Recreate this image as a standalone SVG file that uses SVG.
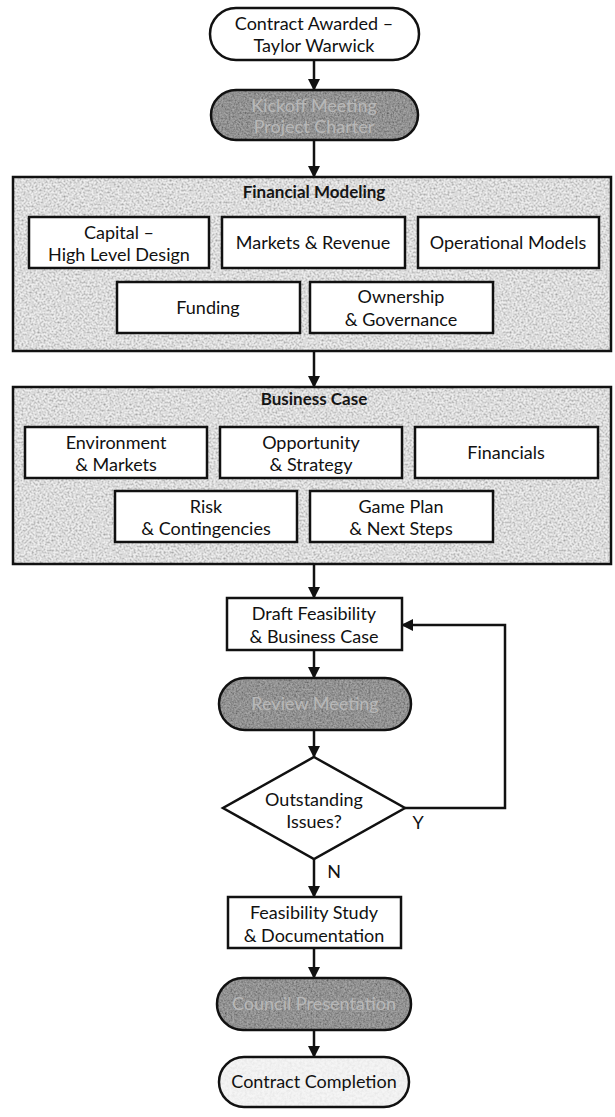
<svg xmlns="http://www.w3.org/2000/svg" width="615" height="1117" viewBox="0 0 615 1117">
  <defs>
    <style>
      .lbl { font-family: Lato, "Open Sans", "Liberation Sans", sans-serif; font-size: 18px; fill: #111; text-anchor: middle; }
      .ttl { font-family: Lato, "Open Sans", "Liberation Sans", sans-serif; font-size: 17px; font-weight: bold; fill: #151515; text-anchor: middle; }
      .dim { font-family: Lato, "Open Sans", "Liberation Sans", sans-serif; font-size: 18px; fill: #b8b8b8; text-anchor: middle; }
      .box { fill: #ffffff; stroke: #111; stroke-width: 2.5; }
      .frame { fill: #c6c6c6; }
      .frame-edge { fill: none; stroke: #111; stroke-width: 2.5; }
      .dark { fill: #686868; }
      .edge { fill: none; stroke: #111; stroke-width: 2.5; }
      .wire { fill: none; stroke: #111; stroke-width: 2.5; marker-end: url(#head); }
    </style>
    <marker id="head" markerUnits="userSpaceOnUse" markerWidth="12" markerHeight="12" refX="11" refY="6" orient="auto">
      <path d="M0,0 L12,6 L0,12 z" fill="#111"/>
    </marker>
    <!-- mottled grey grain used on the shaded shapes -->
    <filter id="grain" x="0" y="0" width="100%" height="100%">
      <feTurbulence type="fractalNoise" baseFrequency="0.5" numOctaves="3" seed="7" result="n"/>
      <feColorMatrix in="n" type="matrix" values="1.4 0 0 0 0.08  1.4 0 0 0 0.08  1.4 0 0 0 0.08  0 0 0 0 0.7" result="g"/>
      <feComposite in="g" in2="SourceGraphic" operator="in"/>
    </filter>
    <filter id="grainDark" x="0" y="0" width="100%" height="100%">
      <feTurbulence type="fractalNoise" baseFrequency="0.55" numOctaves="3" seed="3" result="n"/>
      <feColorMatrix in="n" type="matrix" values="0.9 0 0 0 0.0  0.9 0 0 0 0.0  0.9 0 0 0 0.0  0 0 0 0 0.55" result="g"/>
      <feComposite in="g" in2="SourceGraphic" operator="in"/>
    </filter>
    <filter id="grainLight" x="0" y="0" width="100%" height="100%">
      <feTurbulence type="fractalNoise" baseFrequency="0.4" numOctaves="2" seed="11" result="n"/>
      <feColorMatrix in="n" type="matrix" values="0.5 0 0 0 0.66  0.5 0 0 0 0.66  0.5 0 0 0 0.66  0 0 0 0 0.4" result="g"/>
      <feComposite in="g" in2="SourceGraphic" operator="in"/>
    </filter>
  </defs>

  <rect width="615" height="1117" fill="#ffffff"/>

  <!-- connectors -->
  <g id="connectors">
    <line class="wire" x1="314" y1="60" x2="314" y2="90"/>
    <line class="wire" x1="314" y1="140" x2="314" y2="177"/>
    <line class="wire" x1="314" y1="351" x2="314" y2="387"/>
    <line class="wire" x1="314" y1="564" x2="314" y2="598"/>
    <line class="wire" x1="314" y1="650" x2="314" y2="678"/>
    <line class="wire" x1="314" y1="730" x2="314" y2="757"/>
    <line class="wire" x1="314" y1="859" x2="314" y2="897"/>
    <line class="wire" x1="314" y1="948" x2="314" y2="978"/>
    <line class="wire" x1="314" y1="1030" x2="314" y2="1057"/>
    <polyline class="wire" points="405,808 505,808 505,625 402,625"/>
    <text class="lbl" x="418" y="829">Y</text>
    <text class="lbl" x="334" y="878">N</text>
  </g>

  <!-- start terminator -->
  <g id="contract-awarded">
    <rect class="box" x="210" y="8" width="209" height="52" rx="26"/>
    <text class="lbl" x="314" y="30">Contract Awarded –</text>
    <text class="lbl" x="314" y="52">Taylor Warwick</text>
  </g>

  <g id="kickoff-meeting">
    <rect class="dark" x="211" y="90" width="207" height="50" rx="25"/>
    <rect x="211" y="90" width="207" height="50" rx="25" filter="url(#grainDark)"/>
    <rect class="edge" x="211" y="90" width="207" height="50" rx="25"/>
    <text class="dim" x="314" y="112">Kickoff Meeting</text>
    <text class="dim" x="314" y="133">Project Charter</text>
  </g>

  <!-- financial modelling stage -->
  <g id="financial-modeling">
    <rect class="frame" x="13" y="177" width="598" height="174"/>
    <rect x="13" y="177" width="598" height="174" filter="url(#grain)"/>
    <rect class="frame-edge" x="13" y="177" width="598" height="174"/>
    <text class="ttl" x="314" y="198">Financial Modeling</text>
  </g>
  <g id="capital">
    <rect class="box" x="29" y="217" width="180" height="51"/>
    <text class="lbl" x="119" y="239">Capital –</text>
    <text class="lbl" x="119" y="261">High Level Design</text>
  </g>
  <g id="markets-revenue">
    <rect class="box" x="222" y="217" width="183" height="51"/>
    <text class="lbl" x="313" y="249">Markets &amp; Revenue</text>
  </g>
  <g id="operational-models">
    <rect class="box" x="418" y="217" width="181" height="51"/>
    <text class="lbl" x="508" y="249">Operational Models</text>
  </g>
  <g id="funding">
    <rect class="box" x="117" y="282" width="183" height="51"/>
    <text class="lbl" x="208" y="314">Funding</text>
  </g>
  <g id="ownership-governance">
    <rect class="box" x="310" y="282" width="183" height="51"/>
    <text class="lbl" x="401" y="303">Ownership</text>
    <text class="lbl" x="401" y="326">&amp; Governance</text>
  </g>

  <!-- business case stage -->
  <g id="business-case">
    <rect class="frame" x="13" y="387" width="598" height="177"/>
    <rect x="13" y="387" width="598" height="177" filter="url(#grain)"/>
    <rect class="frame-edge" x="13" y="387" width="598" height="177"/>
    <text class="ttl" x="314" y="405">Business Case</text>
  </g>
  <g id="environment-markets">
    <rect class="box" x="25" y="427" width="182" height="51"/>
    <text class="lbl" x="116" y="449">Environment</text>
    <text class="lbl" x="116" y="471">&amp; Markets</text>
  </g>
  <g id="opportunity-strategy">
    <rect class="box" x="220" y="427" width="182" height="51"/>
    <text class="lbl" x="311" y="449">Opportunity</text>
    <text class="lbl" x="311" y="471">&amp; Strategy</text>
  </g>
  <g id="financials">
    <rect class="box" x="415" y="427" width="183" height="51"/>
    <text class="lbl" x="506" y="459">Financials</text>
  </g>
  <g id="risk-contingencies">
    <rect class="box" x="115" y="491" width="182" height="51"/>
    <text class="lbl" x="206" y="513">Risk</text>
    <text class="lbl" x="206" y="535">&amp; Contingencies</text>
  </g>
  <g id="game-plan">
    <rect class="box" x="310" y="491" width="183" height="51"/>
    <text class="lbl" x="401" y="513">Game Plan</text>
    <text class="lbl" x="401" y="535">&amp; Next Steps</text>
  </g>

  <!-- review loop -->
  <g id="draft-feasibility">
    <rect class="box" x="227" y="598" width="175" height="52"/>
    <text class="lbl" x="314" y="620">Draft Feasibility</text>
    <text class="lbl" x="314" y="643">&amp; Business Case</text>
  </g>
  <g id="review-meeting">
    <rect class="dark" x="219" y="678" width="192" height="52" rx="26"/>
    <rect x="219" y="678" width="192" height="52" rx="26" filter="url(#grainDark)"/>
    <rect class="edge" x="219" y="678" width="192" height="52" rx="26"/>
    <text class="dim" x="315" y="710">Review Meeting</text>
  </g>
  <g id="outstanding-issues">
    <polygon class="box" points="314,757 405,808 314,859 223,808"/>
    <text class="lbl" x="314" y="806">Outstanding</text>
    <text class="lbl" x="314" y="828">Issues?</text>
  </g>

  <g id="feasibility-study">
    <rect class="box" x="228" y="897" width="173" height="51"/>
    <text class="lbl" x="314" y="919">Feasibility Study</text>
    <text class="lbl" x="314" y="942">&amp; Documentation</text>
  </g>
  <g id="council-presentation">
    <rect class="dark" x="217" y="978" width="194" height="52" rx="26"/>
    <rect x="217" y="978" width="194" height="52" rx="26" filter="url(#grainDark)"/>
    <rect class="edge" x="217" y="978" width="194" height="52" rx="26"/>
    <text class="dim" x="314" y="1010">Council Presentation</text>
  </g>
  <g id="contract-completion">
    <rect x="219" y="1057" width="190" height="50" rx="25" fill="#eeeeee"/>
    <rect x="219" y="1057" width="190" height="50" rx="25" filter="url(#grainLight)"/>
    <rect class="edge" x="219" y="1057" width="190" height="50" rx="25"/>
    <text class="lbl" x="314" y="1088">Contract Completion</text>
  </g>
</svg>
